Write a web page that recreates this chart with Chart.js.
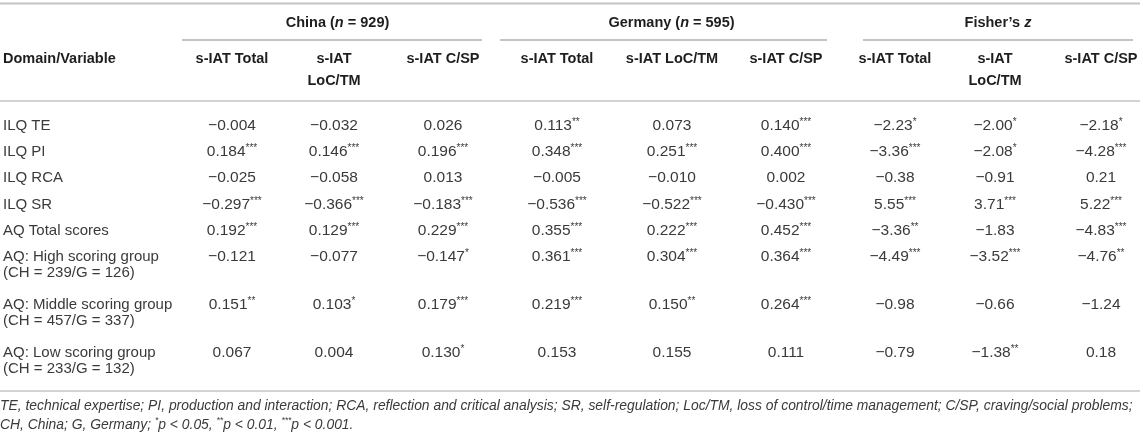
<!DOCTYPE html>
<html>
<head>
<meta charset="utf-8">
<script src="https://cdn.jsdelivr.net/npm/chart.js@4.4.1/dist/chart.umd.min.js"></script>
<style>
html, body { margin: 0; padding: 0; background: #fff; }
</style>
</head>
<body>
<canvas id="corrTable" width="1143" height="442"></canvas>
<script>
// Linhas da tabela
const domains = ['ILQ TE', 'ILQ PI', 'ILQ RCA', 'ILQ SR', 'AQ Total scores',
    'AQ: High scoring group', 'AQ: Middle scoring group', 'AQ: Low scoring group'];
const domainNotes = ['', '', '', '', '', '(CH = 239/G = 126)', '(CH = 457/G = 337)', '(CH = 233/G = 132)'];

// Cabeçalhos
const groupNames = ['China', 'Germany', 'Fisher’s'];
const groupN = [929, 595, null];
const subHeaders = [
    ['s-IAT Total'], ['s-IAT', 'LoC/TM'], ['s-IAT C/SP'],
    ['s-IAT Total'], ['s-IAT LoC/TM'], ['s-IAT C/SP'],
    ['s-IAT Total'], ['s-IAT', 'LoC/TM'], ['s-IAT C/SP']
];

// Valores (r de Pearson / z de Fisher) e número de asteriscos
const chinaTotal = [-0.004, 0.184, -0.025, -0.297, 0.192, -0.121, 0.151, 0.067];
const chinaTotalSig = [0, 3, 0, 3, 3, 0, 2, 0];
const chinaLoc = [-0.032, 0.146, -0.058, -0.366, 0.129, -0.077, 0.103, 0.004];
const chinaLocSig = [0, 3, 0, 3, 3, 0, 1, 0];
const chinaCsp = [0.026, 0.196, 0.013, -0.183, 0.229, -0.147, 0.179, 0.130];
const chinaCspSig = [0, 3, 0, 3, 3, 1, 3, 1];

const germanyTotal = [0.113, 0.348, -0.005, -0.536, 0.355, 0.361, 0.219, 0.153];
const germanyTotalSig = [2, 3, 0, 3, 3, 3, 3, 0];
const germanyLoc = [0.073, 0.251, -0.010, -0.522, 0.222, 0.304, 0.150, 0.155];
const germanyLocSig = [0, 3, 0, 3, 3, 3, 2, 0];
const germanyCsp = [0.140, 0.400, 0.002, -0.430, 0.452, 0.364, 0.264, 0.111];
const germanyCspSig = [3, 3, 0, 3, 3, 3, 3, 0];

const fisherTotal = [-2.23, -3.36, -0.38, 5.55, -3.36, -4.49, -0.98, -0.79];
const fisherTotalSig = [1, 3, 0, 3, 2, 3, 0, 0];
const fisherLoc = [-2.00, -2.08, -0.91, 3.71, -1.83, -3.52, -0.66, -1.38];
const fisherLocSig = [1, 1, 0, 3, 0, 3, 0, 2];
const fisherCsp = [-2.18, -4.28, 0.21, 5.22, -4.83, -4.76, -1.24, 0.18];
const fisherCspSig = [1, 3, 0, 3, 3, 2, 0, 0];

const columns = [
    { values: chinaTotal, sig: chinaTotalSig, digits: 3 },
    { values: chinaLoc, sig: chinaLocSig, digits: 3 },
    { values: chinaCsp, sig: chinaCspSig, digits: 3 },
    { values: germanyTotal, sig: germanyTotalSig, digits: 3 },
    { values: germanyLoc, sig: germanyLocSig, digits: 3 },
    { values: germanyCsp, sig: germanyCspSig, digits: 3 },
    { values: fisherTotal, sig: fisherTotalSig, digits: 2 },
    { values: fisherLoc, sig: fisherLocSig, digits: 2 },
    { values: fisherCsp, sig: fisherCspSig, digits: 2 }
];

const footnote1 = 'TE, technical expertise; PI, production and interaction; RCA, reflection and critical analysis; SR, self-regulation; Loc/TM, loss of control/time management; C/SP, craving/social problems;';

// Layout (em unidades da escala, que vai de 0 a 1143 / 0 a 442)
const colX = [232, 334, 443, 557, 672, 786, 895, 995, 1101];
const rowY = [126, 152, 178, 205, 231, 257, 305, 353];
const groupSpan = [[182, 482], [500, 827], [863, 1133]];

const FONT = '"Liberation Sans", Arial, Helvetica, sans-serif';
const HEAD_COLOR = '#1e1e1e';
const BODY_COLOR = '#3a3a3a';
const RULE_COLOR = '#c4c4c4';

function fmt(v, d) {
    return (v < 0 ? '\u2212' : '') + Math.abs(v).toFixed(d);
}

function drawRich(ctx, parts, x, y, align) {
    let w = 0;
    parts.forEach(p => { ctx.font = p.font; p.w = ctx.measureText(p.text).width; w += p.w; });
    let cx = align === 'center' ? x - w / 2 : (align === 'right' ? x - w : x);
    ctx.textAlign = 'left';
    parts.forEach(p => {
        ctx.font = p.font;
        ctx.fillText(p.text, cx, y + (p.dy || 0));
        cx += p.w;
    });
}

function rule(ctx, x1, x2, y, width) {
    ctx.save();
    ctx.strokeStyle = RULE_COLOR;
    ctx.lineWidth = width;
    ctx.beginPath();
    ctx.moveTo(x1, y);
    ctx.lineTo(x2, y);
    ctx.stroke();
    ctx.restore();
}

const tablePlugin = {
    id: 'tablePlugin',
    beforeDraw(chart) {
        const ctx = chart.ctx;
        ctx.save();
        ctx.fillStyle = '#fff';
        ctx.fillRect(0, 0, chart.width, chart.height);
        ctx.restore();
    },
    afterDatasetsDraw(chart) {
        const ctx = chart.ctx;
        const xs = chart.scales.x;
        const ys = chart.scales.y;
        const px = v => xs.getPixelForValue(v);
        const py = v => ys.getPixelForValue(v);
        ctx.save();
        ctx.textBaseline = 'middle';

        // Linhas horizontais
        rule(ctx, px(0), px(1140), py(3.5), 2);
        groupSpan.forEach(s => rule(ctx, px(s[0]), px(s[1]), py(40), 2));
        rule(ctx, px(0), px(1140), py(101), 1.5);
        rule(ctx, px(0), px(1140), py(391), 1.5);

        // Cabeçalho dos grupos
        ctx.fillStyle = HEAD_COLOR;
        const bold = 'bold 14.5px ' + FONT;
        const boldIt = 'italic bold 14.5px ' + FONT;
        groupNames.forEach((g, i) => {
            const cx = (colX[i * 3] + colX[i * 3 + 2]) / 2;
            const parts = groupN[i] !== null
                ? [{ text: g + ' (', font: bold }, { text: 'n', font: boldIt }, { text: ' = ' + groupN[i] + ')', font: bold }]
                : [{ text: g + ' ', font: bold }, { text: 'z', font: boldIt }];
            drawRich(ctx, parts, px(cx), py(23), 'center');
        });

        // Subcabeçalhos
        ctx.font = bold;
        ctx.textAlign = 'left';
        ctx.fillText('Domain/Variable', px(3), py(59));
        ctx.textAlign = 'center';
        subHeaders.forEach((lines, i) => {
            lines.forEach((l, k) => ctx.fillText(l, px(colX[i]), py(59 + k * 22)));
        });

        // Rótulos das linhas
        ctx.fillStyle = BODY_COLOR;
        ctx.font = '15px ' + FONT;
        ctx.textAlign = 'left';
        domains.forEach((d, r) => {
            ctx.fillText(d, px(3), py(rowY[r]));
            if (domainNotes[r]) ctx.fillText(domainNotes[r], px(3), py(rowY[r] + 16));
        });

        // Células: posições vindas dos pontos do dataset
        chart.data.datasets.forEach((ds, c) => {
            const meta = chart.getDatasetMeta(c);
            meta.data.forEach((pt, r) => {
                const col = columns[c];
                const parts = [{ text: fmt(col.values[r], col.digits), font: '15.5px ' + FONT }];
                if (col.sig[r] > 0) parts.push({ text: '*'.repeat(col.sig[r]), font: '10px ' + FONT, dy: -4 });
                drawRich(ctx, parts, pt.x, pt.y, 'center');
            });
        });

        // Nota de rodapé
        let fs = 13;
        ctx.font = 'italic ' + fs + 'px ' + FONT;
        fs = fs * 1133 / ctx.measureText(footnote1).width;
        const it = 'italic ' + fs.toFixed(2) + 'px ' + FONT;
        const itSup = 'italic 8.5px ' + FONT;
        ctx.font = it;
        ctx.textAlign = 'left';
        ctx.fillText(footnote1, px(0), py(406));
        drawRich(ctx, [
            { text: 'CH, China; G, Germany; ', font: it },
            { text: '*', font: itSup, dy: -4 },
            { text: 'p < 0.05, ', font: it },
            { text: '**', font: itSup, dy: -4 },
            { text: 'p < 0.01, ', font: it },
            { text: '***', font: itSup, dy: -4 },
            { text: 'p < 0.001.', font: it }
        ], px(0), py(425), 'left');

        ctx.restore();
    }
};

const datasets = columns.map((col, c) => ({
    label: 'col' + c,
    data: col.values.map((v, r) => ({ x: colX[c], y: rowY[r] })),
    pointRadius: 0,
    showLine: false
}));

new Chart(document.getElementById('corrTable'), {
    type: 'scatter',
    data: { datasets: datasets },
    options: {
        responsive: false,
        animation: false,
        events: [],
        layout: { padding: 0 },
        plugins: { legend: { display: false }, tooltip: { enabled: false } },
        scales: {
            x: { type: 'linear', min: 0, max: 1143, display: false },
            y: { type: 'linear', min: 0, max: 442, reverse: true, display: false }
        }
    },
    plugins: [tablePlugin]
});
</script>
</body>
</html>
